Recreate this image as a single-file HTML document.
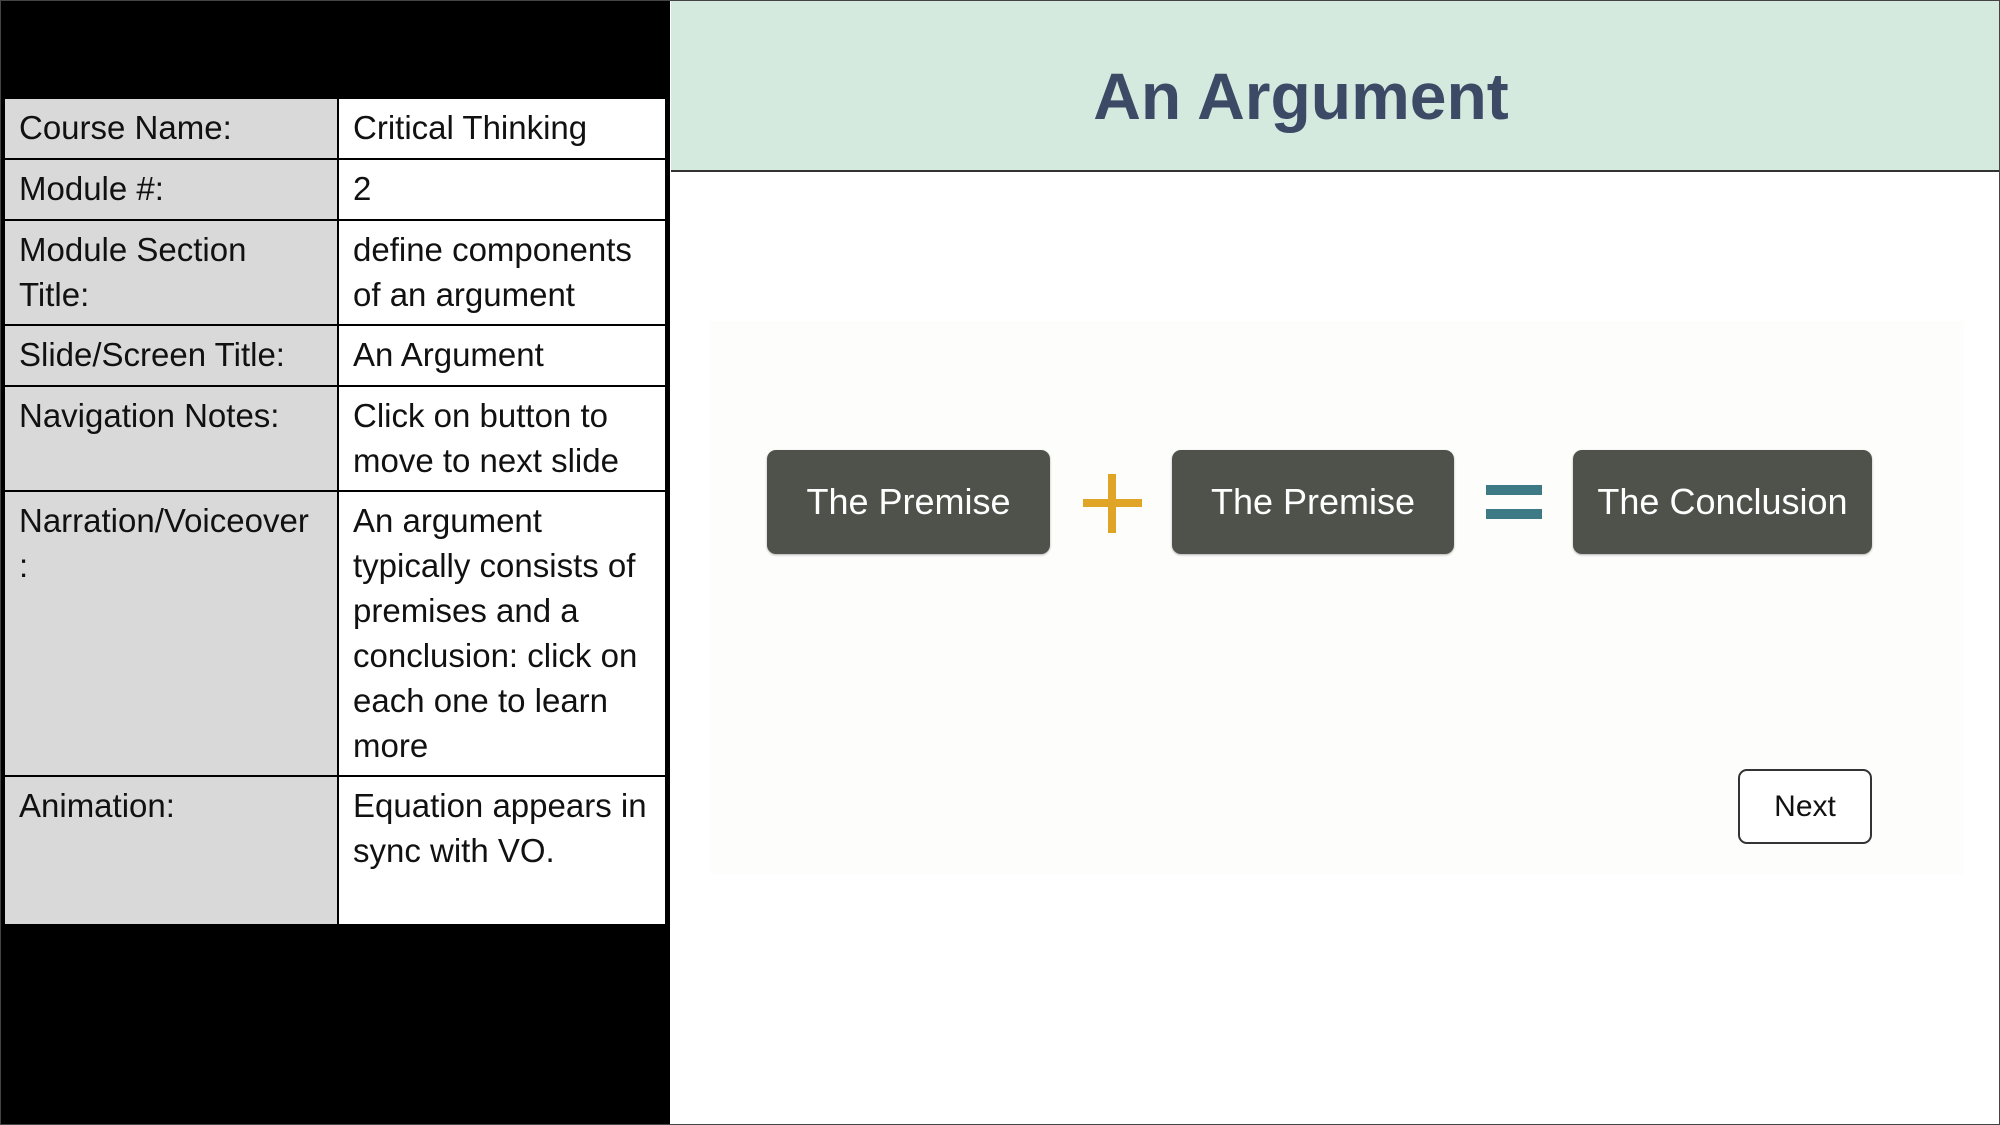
<!DOCTYPE html>
<html><head><meta charset="utf-8"><style>
body{margin:0;width:2000px;height:1125px;position:relative;background:#fff;overflow:hidden;font-family:"Liberation Sans",sans-serif}
.abs{position:absolute}
#left{left:0;top:0;width:670px;height:1125px;background:#000}
table{position:absolute;left:3px;top:97px;border-collapse:collapse;width:664px;table-layout:fixed}
td{border:2px solid #000;font-size:33px;line-height:45px;padding:6px 14px 6px 14px;vertical-align:top;color:#111;white-space:nowrap;overflow:hidden}
td.l{background:#d9d9d9;width:304px}
td.r{background:#fff}
.btn{position:absolute;background:#4f524a;color:#fff;border-radius:9px;font-size:36px;display:flex;align-items:center;justify-content:center;top:450px;height:104px;box-shadow:0 1px 2px rgba(0,0,0,.3)}
</style></head><body>
<div class="abs" id="left"></div>
<table>
<tr style="height:61px"><td class="l">Course Name:</td><td class="r">Critical Thinking</td></tr>
<tr style="height:61px"><td class="l">Module #:</td><td class="r">2</td></tr>
<tr style="height:105px"><td class="l">Module Section<br>Title:</td><td class="r">define components<br>of an argument</td></tr>
<tr style="height:61px"><td class="l">Slide/Screen Title:</td><td class="r">An Argument</td></tr>
<tr style="height:105px"><td class="l">Navigation Notes:</td><td class="r">Click on button to<br>move to next slide</td></tr>
<tr style="height:285px"><td class="l">Narration/Voiceover<br>:</td><td class="r">An argument<br>typically consists of<br>premises and a<br>conclusion: click on<br>each one to learn<br>more</td></tr>
<tr style="height:149px"><td class="l">Animation:</td><td class="r">Equation appears in<br>sync with VO.</td></tr>
</table>
<div class="abs" style="left:671px;top:0;width:1329px;height:170px;background:#d5eadf;border-bottom:2px solid #333"></div>
<div class="abs" style="left:671px;top:56px;width:1260px;text-align:center;font-size:66px;font-weight:bold;color:#3d4a66;line-height:80px">An Argument</div>
<div class="abs" style="left:710px;top:321px;width:1254px;height:553px;background:#fdfdfb"></div>
<div class="btn" style="left:767px;width:283px">The Premise</div>
<div class="btn" style="left:1172px;width:282px">The Premise</div>
<div class="btn" style="left:1573px;width:299px">The Conclusion</div>
<div class="abs" style="left:1083px;top:499px;width:59px;height:8px;background:#e0a526"></div>
<div class="abs" style="left:1108px;top:474px;width:8px;height:59px;background:#e0a526"></div>
<div class="abs" style="left:1486px;top:485px;width:56px;height:10px;background:#3d7a85"></div>
<div class="abs" style="left:1486px;top:509px;width:56px;height:10px;background:#3d7a85"></div>
<div class="abs" style="left:1738px;top:769px;width:130px;height:71px;border:2px solid #333;border-radius:9px;background:#fff;display:flex;align-items:center;justify-content:center;font-size:30px;color:#111">Next</div>
<div class="abs" style="left:0;top:0;width:1998px;height:1123px;border:1px solid #444"></div>
</body></html>
